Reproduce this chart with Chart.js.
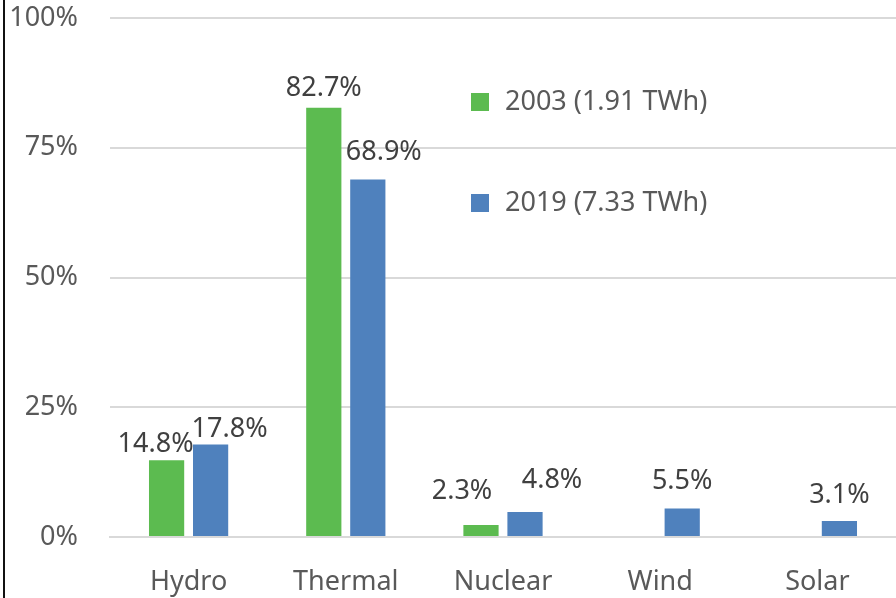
<!DOCTYPE html>
<html>
<head>
<meta charset="utf-8">
<script src="https://cdn.jsdelivr.net/npm/chart.js@4"></script>
<style>
  html, body { margin: 0; padding: 0; background: #fff; }
  #wrap { width: 896px; height: 598px; position: relative; }
</style>
</head>
<body>
<div id="wrap"><canvas id="quoteChart"></canvas></div>
<script>
// dati
const fonti = ['Hydro', 'Thermal', 'Nuclear', 'Wind', 'Solar'];
const quote2003 = [14.8, 82.7, 2.3, null, null];
const quote2019 = [17.8, 68.9, 4.8, 5.5, 3.1];
const etichette2003 = ['14.8%', '82.7%', '2.3%', '', ''];
const etichette2019 = ['17.8%', '68.9%', '4.8%', '5.5%', '3.1%'];
const serie = ['2003 (1.91 TWh)', '2019 (7.33 TWh)'];
const tickY = [0, 25, 50, 75, 100];

const FONT = "'Noto Sans', 'Open Sans', sans-serif";

// spostamenti delle etichette (come nel grafico originale)
const spostamenti = [
    [[-11, -2], [0, -6], [-19, -20], [0, 0], [0, 0]],
    [[19, -2], [16, -14], [27, -18], [0, -14], [0, -12]]
];

const etichettePlugin = {
    id: 'etichette',
    afterDatasetsDraw(chart) {
        const ctx = chart.ctx;
        ctx.save();
        ctx.font = '27px ' + FONT;
        ctx.fillStyle = '#404040';
        ctx.textAlign = 'center';
        ctx.textBaseline = 'bottom';
        [etichette2003, etichette2019].forEach((testi, d) => {
            const meta = chart.getDatasetMeta(d);
            meta.data.forEach((bar, i) => {
                if (!testi[i]) return;
                const [dx, dy] = spostamenti[d][i];
                ctx.fillText(testi[i], bar.x + dx, bar.y + dy);
            });
        });
        ctx.restore();
    }
};

// legenda disegnata dentro l'area del grafico
const legendaPlugin = {
    id: 'legenda',
    afterDraw(chart) {
        const ctx = chart.ctx;
        ctx.save();
        ctx.font = '27px ' + FONT;
        ctx.textBaseline = 'middle';
        chart.data.datasets.forEach((ds, i) => {
            const y = 102 + i * 101;
            ctx.fillStyle = ds.backgroundColor;
            ctx.fillRect(471, y - 9, 18, 18);
            ctx.fillStyle = '#595959';
            ctx.fillText(ds.label, 505, y);
        });
        // bordo sinistro
        ctx.fillStyle = '#111';
        ctx.fillRect(3, 0, 2, chart.height);
        ctx.restore();
    }
};

const ctx = document.getElementById('quoteChart').getContext('2d');
new Chart(ctx, {
    type: 'bar',
    data: {
        labels: fonti,
        datasets: [
            {
                label: serie[0],
                data: quote2003,
                backgroundColor: '#5cbb50'
            },
            {
                label: serie[1],
                data: quote2019,
                backgroundColor: '#4f81bd'
            }
        ]
    },
    options: {
        responsive: true,
        maintainAspectRatio: false,
        animation: false,
        events: [],
        layout: { padding: { top: 18, right: 0, left: 0, bottom: 0 } },
        categoryPercentage: 0.56,
        barPercentage: 0.8,
        plugins: {
            legend: { display: false },
            tooltip: { enabled: false }
        },
        scales: {
            x: {
                grid: { display: false, drawTicks: false },
                border: { color: '#d9d9d9', width: 2 },
                ticks: {
                    color: '#595959',
                    font: { family: FONT, size: 27 },
                    padding: 29,
                    maxRotation: 0
                },
                afterFit(scale) {
                    scale.height = 61;
                    scale.paddingLeft = 0;
                    scale.paddingRight = 0;
                }
            },
            y: {
                min: 0,
                max: 100,
                afterBuildTicks(scale) {
                    scale.ticks = tickY.map(v => ({ value: v }));
                },
                grid: { color: '#d9d9d9', lineWidth: 2, drawTicks: false },
                border: { display: false },
                ticks: {
                    color: '#595959',
                    font: { family: FONT, size: 27 },
                    padding: 32,
                    callback: v => v + '%'
                },
                afterFit(scale) {
                    scale.width = 110;
                    scale.paddingTop = 0;
                    scale.paddingBottom = 0;
                }
            }
        }
    },
    plugins: [etichettePlugin, legendaPlugin]
});
</script>
</body>
</html>
